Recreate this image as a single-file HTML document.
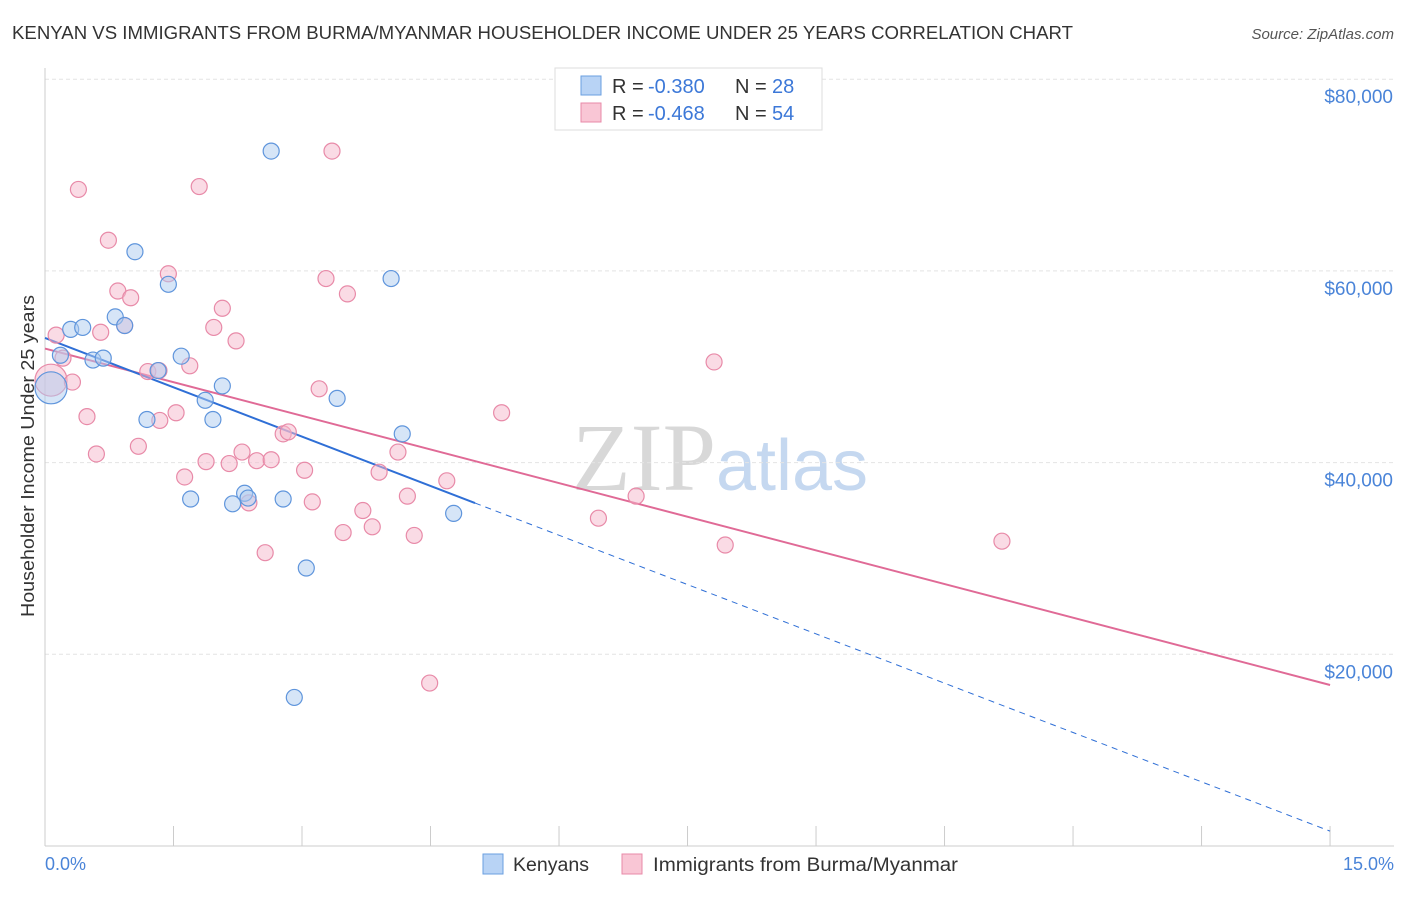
<!DOCTYPE html>
<html><head><meta charset="utf-8"><style>
body{margin:0;background:#fff;font-family:"Liberation Sans",sans-serif}
#wrap{position:relative;width:1406px;height:892px}
</style></head><body>
<div id="wrap">
<svg id="svg" width="1406" height="892" xmlns="http://www.w3.org/2000/svg">
<text x="12" y="39" font-size="18" fill="#333" textLength="1061" lengthAdjust="spacingAndGlyphs">KENYAN VS IMMIGRANTS FROM BURMA/MYANMAR HOUSEHOLDER INCOME UNDER 25 YEARS CORRELATION CHART</text>
<text x="1394" y="39" font-size="15" fill="#555" text-anchor="end" font-style="italic">Source: ZipAtlas.com</text>
<text x="720" y="490" font-size="96" fill="#d8d8d8" text-anchor="middle" font-family="Liberation Serif,serif">ZIP<tspan fill="#c5d8f0" font-family="Liberation Sans,sans-serif" font-size="72">atlas</tspan></text>
<g id="grid"></g><g id="axes"></g><g id="trend"></g><g id="pts"></g>
<text transform="translate(34,456) rotate(-90)" font-size="18" fill="#333" text-anchor="middle" textLength="322" lengthAdjust="spacingAndGlyphs">Householder Income Under 25 years</text>
<text x="45" y="870" font-size="18" fill="#4a84d8">0.0%</text>
<text x="1394" y="870" font-size="18" fill="#4a84d8" text-anchor="end">15.0%</text>
<g>
<rect x="555" y="68" width="267" height="62" fill="#fff" stroke="#ddd"/>
<rect x="581" y="76" width="20" height="19" fill="#b8d3f5" stroke="#6a9fe0"/>
<rect x="581" y="103" width="20" height="19" fill="#f9c6d5" stroke="#e88aa8"/>
<text x="612" y="93" font-size="20" fill="#333">R =</text>
<text x="648" y="93" font-size="20" fill="#3c78d8">-0.380</text>
<text x="735" y="93" font-size="20" fill="#333">N =</text>
<text x="772" y="93" font-size="20" fill="#3c78d8">28</text>
<text x="612" y="120" font-size="20" fill="#333">R =</text>
<text x="648" y="120" font-size="20" fill="#3c78d8">-0.468</text>
<text x="735" y="120" font-size="20" fill="#333">N =</text>
<text x="772" y="120" font-size="20" fill="#3c78d8">54</text>
</g>
<g>
<rect x="483" y="854" width="20" height="20" fill="#b8d3f5" stroke="#6a9fe0"/>
<text x="513" y="871" font-size="19" fill="#333" textLength="76" lengthAdjust="spacingAndGlyphs">Kenyans</text>
<rect x="622" y="854" width="20" height="20" fill="#f9c6d5" stroke="#e88aa8"/>
<text x="653" y="871" font-size="19" fill="#333" textLength="305" lengthAdjust="spacingAndGlyphs">Immigrants from Burma/Myanmar</text>
</g>
</svg></div>
<script>
const yTicks=[20000,40000,60000,80000];
const yTickLabels=["$20,000","$40,000","$60,000","$80,000"];
const kenyanX=[0.07,0.30,0.44,0.82,0.93,0.56,0.68,1.05,1.44,1.59,1.32,1.19,1.87,1.96,2.07,1.70,2.19,2.33,2.37,2.78,2.64,4.04,3.41,4.17,4.77,3.05,2.91,0.18];
const kenyanY=[47.8,53.9,54.1,55.2,54.3,50.7,50.9,62.0,58.6,51.1,49.6,44.5,46.5,44.5,48.0,36.2,35.7,36.8,36.3,36.2,72.5,59.2,46.7,43.0,34.7,29.0,15.5,51.2];
const burmaX=[0.07,0.13,0.21,0.32,0.39,0.49,0.60,0.65,0.74,0.85,1.00,0.93,1.09,1.20,1.34,1.44,1.53,1.63,1.80,1.88,1.97,2.07,2.15,2.23,2.30,2.38,2.47,2.57,2.64,2.78,2.84,3.03,3.12,3.20,3.28,3.35,3.48,3.53,3.71,3.82,3.90,4.12,4.23,4.31,4.49,4.69,5.33,6.46,6.90,7.81,7.94,11.17,1.33,1.69];
const burmaY=[48.6,53.3,50.9,48.4,68.5,44.8,40.9,53.6,63.2,57.9,57.2,54.3,41.7,49.5,44.4,59.7,45.2,38.5,68.8,40.1,54.1,56.1,39.9,52.7,41.1,35.8,40.2,30.6,40.3,43.0,43.2,39.2,35.9,47.7,59.2,72.5,32.7,57.6,35.0,33.3,39.0,41.1,36.5,32.4,17.0,38.1,45.2,34.2,36.5,50.5,31.4,31.8,49.6,50.1];
const kenyanTrend=[53.0,-3.43];
const burmaTrend=[51.9,-2.34];
const NS="http://www.w3.org/2000/svg";
const X=v=>45+v*85.67, Y=v=>846-v/20000*191.7;
function mk(t,a,p){const e=document.createElementNS(NS,t);for(const k in a)e.setAttribute(k,a[k]);document.getElementById(p).appendChild(e);return e;}
yTicks.forEach((t,i)=>{
 const g=mk('line',{x1:45,x2:1394,y1:Y(t),y2:Y(t),stroke:'#e4e4e4','stroke-dasharray':'4,3'},'grid');
 
 
 const l=mk('text',{x:1393,y:Y(t)+24,'font-size':19,fill:'#4a84d8','text-anchor':'end'},'grid');
 l.textContent=yTickLabels[i];
 
 
});
mk('line',{x1:45,x2:1394,y1:846,y2:846,stroke:'#ccc'},'axes');
mk('line',{x1:45,x2:45,y1:68,y2:846,stroke:'#ccc'},'axes');
for(let i=0;i<=10;i++){const t=mk('line',{x1:X(i*1.5),x2:X(i*1.5),y1:826,y2:846,stroke:'#ccc'},'axes');
 
 }
function trend(tr,col,split,dash){
 const y=x=>(tr[0]+tr[1]*x)*1000;
 let a=mk('line',{x1:X(0),y1:Y(y(0)),x2:X(split),y2:Y(y(split)),stroke:col,'stroke-width':2},'trend');
 
 
 if(dash){let b=mk('line',{x1:X(split),y1:Y(y(split)),x2:X(15),y2:Y(y(15)),stroke:col,'stroke-width':1,'stroke-dasharray':'6,5'},'trend');
 
 }
}
trend(burmaTrend,'#e06a96',15,false);
trend(kenyanTrend,'#2f6fd6',5.02,true);
function pts(xs,ys,fill,stroke,name){
 xs.forEach((x,i)=>{const c=mk('circle',{cx:X(x),cy:Y(ys[i]*1000),r:i==0?16:8,fill:fill,'fill-opacity':0.5,stroke:stroke,'stroke-width':1.2},'pts');
 
 });
}
pts(burmaX,burmaY,'#f5b8cb','#e88aa8','burma-point');
pts(kenyanX,kenyanY,'#aecbf0','#5f95dc','kenyan-point');
</script>
</body></html>
